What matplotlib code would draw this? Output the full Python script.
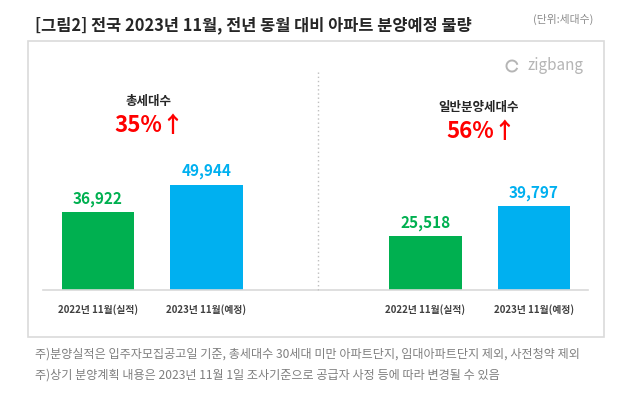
import matplotlib
matplotlib.use("Agg")
import matplotlib.pyplot as plt
from matplotlib.patches import Rectangle, Arc

plt.rcParams['font.family'] = ['Noto Sans CJK KR', 'DejaVu Sans']

# 데이터
periods = ['2022년 11월(실적)', '2023년 11월(예정)']
total_units = [36922, 49944]
general_units = [25518, 39797]
panel_titles = ['총세대수', '일반분양세대수']
panel_changes = ['35%↑', '56%↑']

title = '[그림2] 전국 2023년 11월, 전년 동월 대비 아파트 분양예정 물량'
unit_note = '(단위:세대수)'
notes = ['주)분양실적은 입주자모집공고일 기준, 총세대수 30세대 미만 아파트단지, 임대아파트단지 제외, 사전청약 제외',
         '주)상기 분양계획 내용은 2023년 11월 1일 조사기준으로 공급자 사정 등에 따라 변경될 수 있음']

bar_colors = ['#00B050', '#00B0F0']
W, H = 640, 395

fig = plt.figure(figsize=(W / 100, H / 100), dpi=100)
fig.patch.set_facecolor('white')


def fx(x):
    return x / W


def fy(y):
    return 1 - y / H


# 바깥 박스
fig.patches.append(Rectangle((fx(28), fy(337)), fx(604) - fx(28), fy(41) - fy(337),
                             transform=fig.transFigure, fill=False,
                             edgecolor='#DADADA', lw=1.2))

fig.text(fx(35), fy(25), title, fontsize=11.8, fontweight='bold', color='#262626',
         ha='left', va='center')
fig.text(fx(563), fy(19), unit_note, fontsize=7.8, color='#8C8C8C', ha='center', va='center')

# 로고
fig.text(fx(584), fy(66), 'zigbang', fontsize=11, color='#B5B5B5', ha='right', va='center')
fig.patches.append(Arc((fx(512), fy(66)), 11 / W, 11 / H, theta1=20, theta2=330,
                       transform=fig.transFigure, color='#B5B5B5', lw=1.4))

ymax = 109500
panels = [
    (43, 275, -0.507, 2.028, total_units),
    (320, 268, -0.972, 1.498, general_units),
]

for k, (x0, w, xl, xr, vals) in enumerate(panels):
    ax = fig.add_axes([fx(x0), fy(290), w / W, 230 / H])
    ax.bar([0, 1], vals, width=0.67, color=bar_colors)
    ax.set_xlim(xl, xr)
    ax.set_ylim(0, ymax)
    for s in ['top', 'right', 'left']:
        ax.spines[s].set_visible(False)
    ax.spines['bottom'].set_color('#D9D9D9')
    ax.spines['bottom'].set_linewidth(1.2)
    ax.set_yticks([])
    ax.set_xticks([0, 1], periods)
    ax.tick_params(axis='x', length=0, pad=10, labelsize=7, labelcolor='#404040')
    for lab in ax.get_xticklabels():
        lab.set_fontweight('bold')
    ax.patch.set_alpha(0)
    for i, v in enumerate(vals):
        ax.annotate(f'{v:,}', xy=(i, v), xytext=(0, 10), textcoords='offset points',
                    ha='center', va='center', fontsize=11, fontweight='bold',
                    color=bar_colors[i])

fig.text(fx(148), fy(102), panel_titles[0], fontsize=9, fontweight='bold',
         color='#262626', ha='center', va='center')
fig.text(fx(149), fy(126), panel_changes[0], fontsize=16, fontweight='bold',
         color='#FF0000', ha='center', va='center')
fig.text(fx(479), fy(107), panel_titles[1], fontsize=9, fontweight='bold',
         color='#262626', ha='center', va='center')
fig.text(fx(481), fy(132), panel_changes[1], fontsize=16, fontweight='bold',
         color='#FF0000', ha='center', va='center')

# 점선 구분선
fig.add_artist(plt.Line2D([fx(318), fx(318)], [fy(72), fy(290)], transform=fig.transFigure,
                          color='#BFBFBF', lw=1, linestyle=(0, (1, 2))))

fig.text(fx(35), fy(354), notes[0], fontsize=8.7, color='#7F7F7F', ha='left', va='center')
fig.text(fx(35), fy(375), notes[1], fontsize=8.7, color='#7F7F7F', ha='left', va='center')

fig.savefig('out.png', dpi=100)
